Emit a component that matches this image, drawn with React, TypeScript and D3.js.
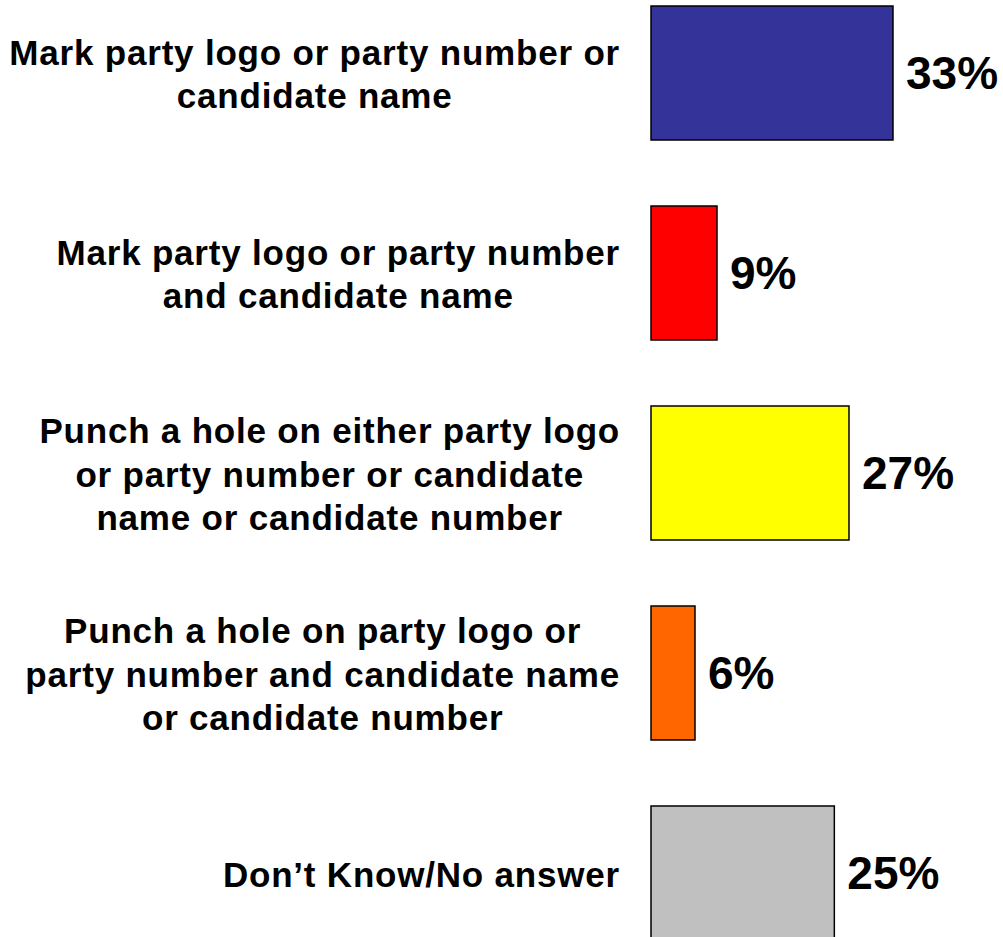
import React, { useEffect, useRef } from "react";
import * as d3 from "d3";

const categories: string[][] = [
  ["Mark party logo or party number or", "candidate name"],
  ["Mark party logo or party number", "and candidate name"],
  ["Punch a hole on either party logo", "or party number or candidate", "name or candidate number"],
  ["Punch a hole on party logo or", "party number and candidate name", "or candidate number"],
  ["Don\u2019t Know/No answer"],
];
const values: number[] = [33, 9, 27, 6, 25];
const colors: string[] = ["#333399", "#FF0000", "#FFFF00", "#FF6600", "#C0C0C0"];

const W = 1003;
const H = 937;

export default function App() {
  const ref = useRef<SVGSVGElement | null>(null);

  useEffect(() => {
    document.body.style.margin = "0";
    const svg = d3.select(ref.current);
    svg.selectAll("*").remove();

    const keys = categories.map((_, i) => String(i));
    const y = d3.scaleBand<string>().domain(keys).range([-27, 973]).paddingInner(0.33).paddingOuter(0.165);
    const x = d3.scaleLinear().domain([0, 100]).range([651, 651 + 733.3]);

    const g = svg.append("g");
    g.selectAll("rect")
      .data(values)
      .join("rect")
      .attr("x", x(0))
      .attr("y", (_, i) => y(keys[i])!)
      .attr("width", (d) => x(d) - x(0))
      .attr("height", y.bandwidth())
      .attr("fill", (_, i) => colors[i])
      .attr("stroke", "#000")
      .attr("stroke-width", 1.5);

    g.selectAll("text.val")
      .data(values)
      .join("text")
      .attr("class", "val")
      .attr("x", (d) => x(d) + 13)
      .attr("y", (_, i) => y(keys[i])! + y.bandwidth() / 2 + 16)
      .attr("font-family", "'Liberation Sans', Arial, sans-serif")
      .attr("font-weight", "bold")
      .attr("font-size", 46)
      .attr("fill", "#000")
      .text((d) => `${d}%`);

    const lineH = 43.5;
    const rightEdge = 620;
    categories.forEach((lines, i) => {
      const cy = y(keys[i])! + y.bandwidth() / 2;
      const tg = g.append("g");
      const texts = tg
        .selectAll("text")
        .data(lines)
        .join("text")
        .attr("y", (_, j) => cy + (j - (lines.length - 1) / 2) * lineH + 13.5)
        .attr("font-family", "'Liberation Sans', Arial, sans-serif")
        .attr("font-weight", "bold")
        .attr("font-size", 35)
        .attr("letter-spacing", 0.8)
        .attr("text-anchor", "middle")
        .attr("fill", "#000")
        .text((d) => d);
      let maxW = 0;
      texts.each(function () {
        const w = (this as SVGTextElement).getComputedTextLength();
        if (w > maxW) maxW = w;
      });
      texts.attr("x", rightEdge - maxW / 2);
    });
  }, []);

  return <svg ref={ref} width={W} height={H} style={{ display: "block" }} />;
}
